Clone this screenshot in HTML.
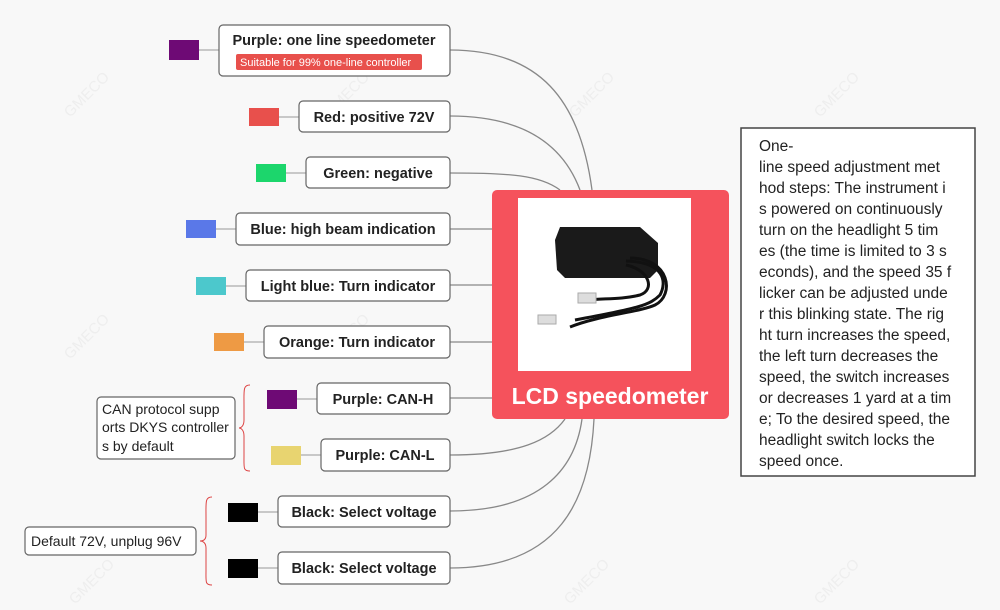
<!DOCTYPE html>
<html><head><meta charset="utf-8"><style>
html,body{margin:0;padding:0;background:#f8f8f8;}
svg{display:block;font-family:"Liberation Sans",sans-serif;}
.b{fill:#fff;stroke:#666;stroke-width:1.2;}
.t{font-size:14.5px;font-weight:bold;fill:#222;text-anchor:middle;}
.c{fill:none;stroke:#888;stroke-width:1.3;}
.s{stroke:#aaa;stroke-width:1.3;}
.w{font-size:15px;fill:#eeeeee;}
</style></head><body>
<svg width="1000" height="610" viewBox="0 0 1000 610">
<rect width="1000" height="610" fill="#f8f8f8"/>
<g class="w">
<text x="70" y="118" transform="rotate(-45 70 118)">GMECO</text>
<text x="330" y="118" transform="rotate(-45 330 118)">GMECO</text>
<text x="575" y="118" transform="rotate(-45 575 118)">GMECO</text>
<text x="820" y="118" transform="rotate(-45 820 118)">GMECO</text>
<text x="70" y="360" transform="rotate(-45 70 360)">GMECO</text>
<text x="330" y="360" transform="rotate(-45 330 360)">GMECO</text>
<text x="75" y="605" transform="rotate(-45 75 605)">GMECO</text>
<text x="570" y="605" transform="rotate(-45 570 605)">GMECO</text>
<text x="820" y="605" transform="rotate(-45 820 605)">GMECO</text>
</g>
<path class="c" d="M450 50 C540 50 580 100 592 190"/>
<path class="c" d="M450 116 C530 116 565 150 580 190"/>
<path class="c" d="M450 173 C510 173 540 175 560 190"/>
<path class="c" d="M450 229 C475 229 480 229 492 229"/>
<path class="c" d="M450 285 L492 285"/>
<path class="c" d="M450 342 L492 342"/>
<path class="c" d="M450 398 L492 398"/>
<path class="c" d="M450 455 C520 455 550 440 565 419"/>
<path class="c" d="M450 511 C540 511 575 470 582 419"/>
<path class="c" d="M450 568 C560 568 590 500 594 419"/>
<g class="s">
<line x1="199" y1="50" x2="219" y2="50"/>
<line x1="279" y1="117" x2="299" y2="117"/>
<line x1="286" y1="173" x2="306" y2="173"/>
<line x1="216" y1="229" x2="236" y2="229"/>
<line x1="226" y1="286" x2="246" y2="286"/>
<line x1="244" y1="342" x2="264" y2="342"/>
<line x1="297" y1="399" x2="317" y2="399"/>
<line x1="301" y1="455" x2="321" y2="455"/>
<line x1="258" y1="512" x2="278" y2="512"/>
<line x1="258" y1="568" x2="278" y2="568"/>
</g>
<rect x="169" y="40" width="30" height="20" fill="#6e0a75"/>
<rect x="249" y="108" width="30" height="18" fill="#e8504c"/>
<rect x="256" y="164" width="30" height="18" fill="#1cd66c"/>
<rect x="186" y="220" width="30" height="18" fill="#5a78e8"/>
<rect x="196" y="277" width="30" height="18" fill="#4cc8cc"/>
<rect x="214" y="333" width="30" height="18" fill="#ee9a44"/>
<rect x="267" y="390" width="30" height="19" fill="#6e0a75"/>
<rect x="271" y="446" width="30" height="19" fill="#e8d470"/>
<rect x="228" y="503" width="30" height="19" fill="#000"/>
<rect x="228" y="559" width="30" height="19" fill="#000"/>
<rect class="b" x="219" y="25" width="231" height="51" rx="4"/>
<text class="t" x="334" y="45">Purple: one line speedometer</text>
<rect x="236" y="54" width="186" height="16" rx="2" fill="#e8504c"/>
<text x="240" y="66" font-size="11" fill="#fff">Suitable for 99% one-line controller</text>
<rect class="b" x="299" y="101" width="151" height="31" rx="4"/><text class="t" x="374" y="122">Red: positive 72V</text>
<rect class="b" x="306" y="157" width="144" height="31" rx="4"/><text class="t" x="378" y="178">Green: negative</text>
<rect class="b" x="236" y="213" width="214" height="32" rx="4"/><text class="t" x="343" y="234">Blue: high beam indication</text>
<rect class="b" x="246" y="270" width="204" height="31" rx="4"/><text class="t" x="348" y="291">Light blue: Turn indicator</text>
<rect class="b" x="264" y="326" width="186" height="32" rx="4"/><text class="t" x="357" y="347">Orange: Turn indicator</text>
<rect class="b" x="317" y="383" width="133" height="31" rx="4"/><text class="t" x="383" y="404">Purple: CAN-H</text>
<rect class="b" x="321" y="439" width="129" height="32" rx="4"/><text class="t" x="385" y="460">Purple: CAN-L</text>
<rect class="b" x="278" y="496" width="172" height="31" rx="4"/><text class="t" x="364" y="517">Black: Select voltage</text>
<rect class="b" x="278" y="552" width="172" height="32" rx="4"/><text class="t" x="364" y="573">Black: Select voltage</text>
<rect class="b" x="97" y="397" width="138" height="62" rx="4"/>
<g font-size="14" fill="#222"><text x="102" y="414">CAN protocol supp</text><text x="102" y="432">orts DKYS controller</text><text x="102" y="451">s by default</text></g>
<path d="M250 385 C243 385 244 390 244 405 L244 420 C244 426 241 428 239 428 C241 428 244 430 244 436 L244 455 C244 468 243 471 250 471" fill="none" stroke="#d44" stroke-width="1"/>
<rect class="b" x="25" y="527" width="171" height="28" rx="4"/>
<text x="31" y="546" font-size="14" fill="#222">Default 72V, unplug 96V</text>
<path d="M212 497 C205 497 206 502 206 517 L206 535 C206 540 203 541 200 541 C203 541 206 543 206 548 L206 570 C206 582 205 585 212 585" fill="none" stroke="#d44" stroke-width="1"/>
<rect x="492" y="190" width="237" height="229" rx="5" fill="#f5525c"/>
<rect x="518" y="198" width="173" height="173" fill="#fff"/>
<path d="M560 227 L640 227 L658 243 L658 270 L650 278 L565 278 L557 270 L555 240 Z" fill="#1a1a1a"/>
<path d="M626 261 C665 262 667 282 660 295 C650 305 640 308 575 320" fill="none" stroke="#111" stroke-width="3"/>
<path d="M630 258 C670 258 675 295 655 305 C640 312 600 315 570 327" fill="none" stroke="#111" stroke-width="3"/>
<path d="M626 265 C650 270 655 290 640 295 C620 300 600 298 590 300" fill="none" stroke="#111" stroke-width="3"/>
<rect x="578" y="293" width="18" height="10" fill="#ddd" stroke="#aaa"/>
<rect x="538" y="315" width="18" height="9" fill="#ddd" stroke="#aaa"/>
<text x="610" y="404" font-size="23" font-weight="bold" fill="#fff" text-anchor="middle">LCD speedometer</text>
<rect x="741" y="128" width="234" height="348" fill="#fff" stroke="#444" stroke-width="1.5"/>
<g font-size="15.5" fill="#222">
<text x="759" y="151">One-</text>
<text x="759" y="172">line speed adjustment met</text>
<text x="759" y="193">hod steps: The instrument i</text>
<text x="759" y="214">s powered on continuously</text>
<text x="759" y="235">turn on the headlight 5 tim</text>
<text x="759" y="256">es (the time is limited to 3 s</text>
<text x="759" y="277">econds), and the speed 35 f</text>
<text x="759" y="298">licker can be adjusted unde</text>
<text x="759" y="319">r this blinking state. The rig</text>
<text x="759" y="340">ht turn increases the speed,</text>
<text x="759" y="361">the left turn decreases the</text>
<text x="759" y="382">speed, the switch increases</text>
<text x="759" y="403">or decreases 1 yard at a tim</text>
<text x="759" y="424">e; To the desired speed, the</text>
<text x="759" y="445">headlight switch locks the</text>
<text x="759" y="466">speed once.</text>
</g>
</svg>
</body></html>
